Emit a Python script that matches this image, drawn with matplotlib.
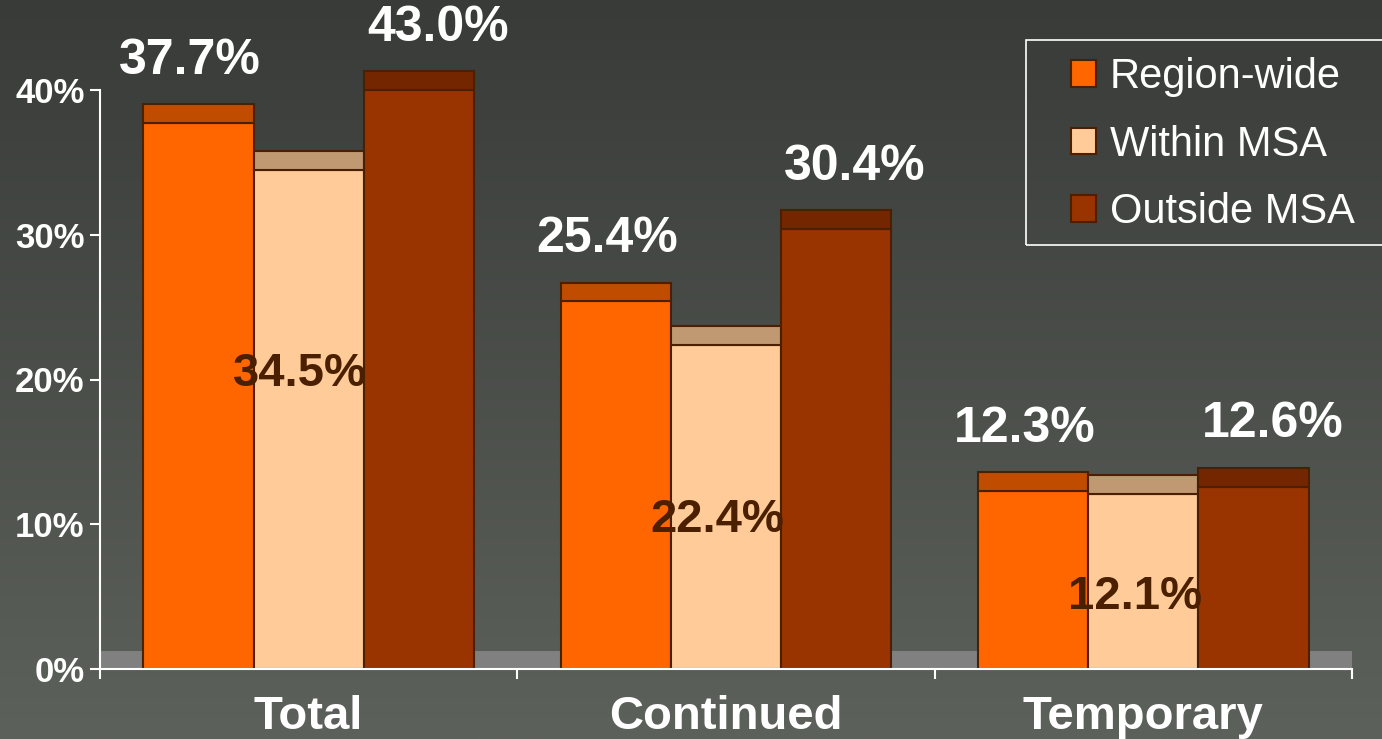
import matplotlib
matplotlib.use("Agg")
import matplotlib.pyplot as plt
import numpy as np
from matplotlib.patches import Patch, Rectangle

# Daten
categories = ["Total", "Continued", "Temporary"]
series = ["Region-wide", "Within MSA", "Outside MSA"]
region_wide = [37.7, 25.4, 12.3]
within_msa = [34.5, 22.4, 12.1]
outside_msa = [43.0, 30.4, 12.6]
y_ticks = [0, 10, 20, 30, 40]

# Layout / Stil
colors = ["#FF6600", "#FFCC99", "#993300"]
cap_colors = ["#C04C00", "#C09973", "#732600"]
edge = "#4A2000"
ymax = 40
cap = 1.3
width = 0.264
within_label_y = [20.4, 10.3, 5.0]

plt.rcParams["font.family"] = ["Liberation Sans", "DejaVu Sans"]

fig = plt.figure(figsize=(13.82, 7.39), dpi=100)

# Hintergrund mit Verlauf
bg = fig.add_axes([0, 0, 1, 1], zorder=-1)
grad = np.linspace(0, 1, 256).reshape(-1, 1)
top = np.array([56, 59, 56]) / 255
bot = np.array([93, 97, 91]) / 255
img = top + (bot - top) * grad[:, :, None] * np.ones((1, 2, 1))
bg.imshow(img, aspect="auto", extent=[0, 1, 0, 1], origin="upper")
bg.axis("off")

ax = fig.add_axes([100 / 1382, 70 / 739, 1252 / 1382, 579 / 739])
ax.set_facecolor("none")
ax.set_xlim(-0.5, 2.5)
ax.set_ylim(0, ymax)

x = np.arange(len(categories))

# Boden
ax.axhspan(0, 1.25, color="#808080", zorder=1, lw=0)

data = [region_wide, within_msa, outside_msa]
for i, vals in enumerate(data):
    xs = x + (i - 1) * width
    h = np.minimum(vals, ymax)
    ax.bar(xs, h, width, color=colors[i], edgecolor=edge, lw=1.5, zorder=3)
    ax.bar(xs, cap, width, bottom=h, color=cap_colors[i], edgecolor=edge,
           lw=1.5, zorder=3, clip_on=False)

# Beschriftungen
for j in range(len(categories)):
    h = min(region_wide[j], ymax) + cap
    ax.text(x[j] - width - 0.02, h + 3.0, f"{region_wide[j]:.1f}%", ha="center",
            va="center", color="white", fontsize=36, fontweight="bold", zorder=5,
            clip_on=False)
    h = min(outside_msa[j], ymax) + cap
    ax.text(x[j] + width + 0.045, h + 3.0, f"{outside_msa[j]:.1f}%", ha="center",
            va="center", color="white", fontsize=36, fontweight="bold", zorder=5,
            clip_on=False)
    ax.text(x[j] - 0.02, within_label_y[j], f"{within_msa[j]:.1f}%", ha="center",
            va="center", color="#4A2000", fontsize=34, fontweight="bold", zorder=5)

# Achsen
for s in ["top", "right"]:
    ax.spines[s].set_visible(False)
ax.spines["left"].set_color("white")
ax.spines["bottom"].set_color("white")
ax.spines["left"].set_linewidth(1.5)
ax.spines["bottom"].set_linewidth(1.5)
ax.spines["bottom"].set_zorder(4)

ax.set_yticks(y_ticks)
ax.set_yticklabels([f"{t}%" for t in y_ticks], fontsize=25, fontweight="bold",
                   color="white")
ax.tick_params(axis="y", colors="white", length=7, width=1.5, pad=4)

ax.set_xticks([-0.5, 0.5, 1.5, 2.5])
ax.set_xticklabels([])
ax.tick_params(axis="x", colors="white", length=7, width=1.5)
for j, c in enumerate(categories):
    ax.text(x[j], -3.35, c, ha="center", va="center", color="white",
            fontsize=34, fontweight="bold", clip_on=False)

# Legende
fig.patches.append(Rectangle((1026 / 1382, 1 - 245 / 739), 400 / 1382, 205 / 739,
                             transform=fig.transFigure, facecolor="none",
                             edgecolor="white", lw=1.2))
handles = [Patch(facecolor=colors[i], edgecolor=edge, lw=1.5, label=series[i])
           for i in range(3)]
leg = ax.legend(handles=handles, loc="upper left",
                bbox_to_anchor=(1071 / 1382, 1 - 57 / 739),
                bbox_transform=fig.transFigure, frameon=False, fontsize=30,
                handlelength=0.6, handleheight=0.6, handletextpad=0.33,
                labelspacing=0.66, borderpad=0, borderaxespad=0)
for t in leg.get_texts():
    t.set_color("white")

fig.savefig("out.png", dpi=100)
